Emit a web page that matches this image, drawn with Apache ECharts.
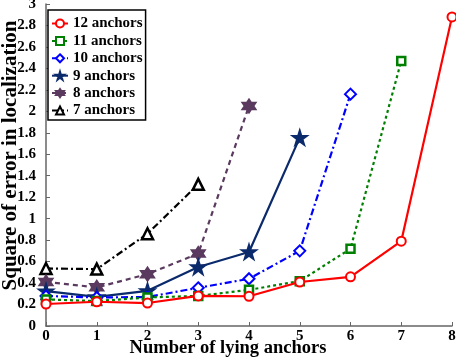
<!DOCTYPE html>
<html><head><meta charset="utf-8">
<script src="https://cdn.jsdelivr.net/npm/echarts@6/dist/echarts.min.js"></script>
<style>html,body{margin:0;padding:0;background:#fff}#c{width:456px;height:362px}</style>
</head><body><div id="c"></div>
<script>
const xValues = [0,1,2,3,4,5,6,7,8];
const seriesNames = ['12 anchors','11 anchors','10 anchors','9 anchors','8 anchors','7 anchors'];
const a12 = [0.205,0.226,0.214,0.28,0.277,0.41,0.458,0.79,2.88];
const a11 = [0.248,0.232,0.266,0.28,0.337,0.418,0.72,2.47];
const a10 = [0.28,0.266,0.27,0.356,0.44,0.70,2.16];
const a9  = [0.325,0.272,0.328,0.55,0.69,1.755];
const a8  = [0.41,0.36,0.483,0.675,2.05];
const a7  = [0.536,0.53,0.86,1.32];

const font = '"Liberation Serif","Times New Roman",serif';
const star5 = 'path://M50,0 L61.8,35.3 L100,35.3 L69.1,57.1 L80.9,92.7 L50,70.9 L19.1,92.7 L30.9,57.1 L0,35.3 L38.2,35.3 Z';
const star6 = 'path://M50,0 L64.4,25 L93.3,25 L78.9,50 L93.3,75 L64.4,75 L50,100 L35.6,75 L6.7,75 L21.1,50 L6.7,25 L35.6,25 Z';

function pts(arr){ return arr.map((v,i)=>[xValues[i], v]); }
const defs = [
  {data:a12, color:'#ff0000', type:'solid', symbol:'circle', size:9, fill:'#fff'},
  {data:a11, color:'#008000', type:[3,3], symbol:'rect', size:8, fill:'#fff', bw:2.5},
  {data:a10, color:'#0000ff', type:[7,3,2,3], symbol:'diamond', size:11, fill:'#fff'},
  {data:a9, color:'#0b2a6b', type:'solid', symbol:star5, size:14, fill:'#0b2a6b'},
  {data:a8, color:'#5a3a5e', type:[5,4], symbol:star6, size:13, fill:'#5a3a5e'},
  {data:a7, color:'#000000', type:[7,3,2,3], symbol:'triangle', size:11, fill:'#fff', bw:2.5},
];
const series = defs.map((d,k)=>({
  name: seriesNames[k], type:'line', data: pts(d.data),
  symbol: d.symbol, symbolSize: d.size,
  lineStyle:{color:d.color, width:2.2, type:d.type},
  itemStyle:{color:d.fill, borderColor:d.color, borderWidth:d.bw||2},
  z: 10-k
}));

const chart = echarts.init(document.getElementById('c'), null, {renderer:'canvas'});
chart.setOption({
  animation:false,
  backgroundColor:'#fff',
  grid:{left:46, right:4, top:4, bottom:36, containLabel:false, outerBoundsMode:'none'},
  legend:{
    orient:'vertical', left:48, top:10, data:seriesNames,
    backgroundColor:'#fff', borderColor:'#000', borderWidth:1.5,
    padding:[6,3,2,3], itemGap:2.4, itemWidth:16, itemHeight:10,
    textStyle:{fontFamily:font, fontWeight:'bold', fontSize:15, color:'#000'}
  },
  xAxis:{
    type:'value', min:0, max:8, interval:1,
    name:'Number of lying anchors', nameLocation:'middle', nameGap:13, nameMoveOverlap:false,
    nameTextStyle:{fontFamily:font, fontWeight:'bold', fontSize:18.5, color:'#000', padding:[0,42,0,0], verticalAlign:'top'},
    axisLine:{lineStyle:{color:'#666', width:1.5}},
    axisTick:{inside:true, length:4, lineStyle:{color:'#666'}},
    axisLabel:{fontFamily:font, fontWeight:'bold', fontSize:15, color:'#000', margin:3},
    splitLine:{show:false}
  },
  yAxis:{
    type:'value', min:0, max:3, interval:0.2,
    name:'Square of error in localization', nameLocation:'middle', nameGap:25, nameMoveOverlap:false,
    nameTextStyle:{fontFamily:font, fontWeight:'bold', fontSize:21, color:'#000', padding:[0,0,0,19]},
    axisLine:{show:true, lineStyle:{color:'#666', width:1.5}},
    axisTick:{show:true, inside:true, length:4, lineStyle:{color:'#666'}},
    axisLabel:{fontFamily:font, fontWeight:'bold', fontSize:15, color:'#000', margin:10, showMaxLabel:true, showMinLabel:true},
    splitLine:{show:false}
  },
  series: series
});
</script></body></html>
